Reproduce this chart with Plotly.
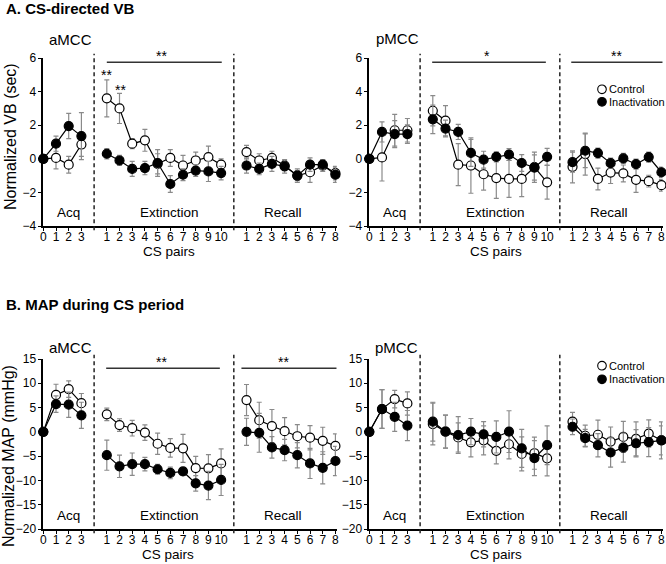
import plotly.graph_objects as go

# ---------------- data ----------------
acq_pairs = [0, 1, 2, 3]
ext_pairs = [1, 2, 3, 4, 5, 6, 7, 8, 9, 10]
rec_pairs = [1, 2, 3, 4, 5, 6, 7, 8]
phase_names = ["Acq", "Extinction", "Recall"]
series_names = ["Control", "Inactivation"]

# A. CS-directed VB, aMCC
vb_a_ctrl_acq = [0, 0.05, -0.35, 0.85]
vb_a_ctrl_acq_err = [0, 0.65, 0.5, 0.7]
vb_a_inact_acq = [0, 0.9, 1.95, 1.35]
vb_a_inact_acq_err = [0, 0.45, 0.75, 1.4]
vb_a_ctrl_ext = [3.6, 3.0, 0.9, 1.1, -0.3, 0.05, -0.4, -0.1, 0.1, -0.35]
vb_a_ctrl_ext_err = [1.1, 0.9, 0.3, 0.65, 0.6, 0.5, 0.6, 0.5, 0.65, 0.35]
vb_a_inact_ext = [0.3, -0.1, -0.6, -0.55, -0.25, -1.5, -0.95, -0.7, -0.75, -0.85]
vb_a_inact_ext_err = [0.3, 0.3, 0.45, 0.4, 0.8, 0.5, 0.35, 0.35, 0.6, 0.4]
vb_a_ctrl_rec = [0.4, -0.1, 0.05, -0.4, -1.0, -0.8, -0.4, -0.85]
vb_a_ctrl_rec_err = [0.4, 0.4, 0.4, 0.3, 0.3, 0.6, 0.35, 0.4]
vb_a_inact_rec = [-0.4, -0.6, -0.3, -0.45, -1.0, -0.35, -0.35, -0.95]
vb_a_inact_rec_err = [0.45, 0.35, 0.45, 0.4, 0.4, 0.4, 0.3, 0.45]

# A. CS-directed VB, pMCC
vb_p_ctrl_acq = [0, 0.08, 1.7, 1.7]
vb_p_ctrl_acq_err = [0, 1.4, 0.95, 0.7]
vb_p_inact_acq = [0, 1.6, 1.47, 1.47]
vb_p_inact_acq_err = [0, 0.6, 0.8, 0.55]
vb_p_ctrl_ext = [2.86, 2.27, -0.35, -0.4, -0.92, -1.15, -1.2, -1.2, -0.5, -1.4]
vb_p_ctrl_ext_err = [0.9, 0.9, 1.25, 1.65, 0.95, 1.2, 1.1, 1.05, 0.9, 1.0]
vb_p_inact_ext = [2.35, 1.8, 1.6, 0.35, -0.05, 0.12, 0.25, -0.25, -0.52, 0.12]
vb_p_inact_ext_err = [0.85, 0.5, 0.45, 0.8, 0.5, 0.3, 0.35, 0.5, 0.75, 0.5]
vb_p_ctrl_rec = [-0.48, 0.28, -1.2, -0.82, -0.87, -1.25, -1.33, -1.57]
vb_p_ctrl_rec_err = [0.95, 1.25, 0.65, 0.65, 0.5, 0.75, 0.35, 0.35]
vb_p_inact_rec = [-0.2, 0.48, 0.34, -0.26, 0.02, -0.32, 0.1, -0.8]
vb_p_inact_rec_err = [0.6, 1.0, 0.3, 0.3, 0.3, 0.3, 0.3, 0.3]

# B. MAP during CS period, aMCC
map_a_ctrl_acq = [0, 7.6, 8.8, 5.9]
map_a_ctrl_acq_err = [0, 2.2, 1.7, 2.0]
map_a_inact_acq = [0, 5.7, 5.6, 3.4]
map_a_inact_acq_err = [0, 1.7, 2.6, 2.7]
map_a_ctrl_ext = [3.6, 1.4, 0.75, -0.15, -2.45, -3.3, -3.4, -7.45, -7.5, -6.5]
map_a_ctrl_ext_err = [1.3, 1.3, 1.6, 1.6, 2.2, 1.9, 2.9, 2.4, 2.8, 3.0]
map_a_inact_ext = [-4.8, -7.1, -6.65, -6.65, -7.7, -8.45, -8.15, -10.6, -11.05, -9.9]
map_a_inact_ext_err = [3.1, 2.3, 2.3, 1.4, 1.0, 1.2, 0.8, 1.6, 2.9, 3.2]
map_a_ctrl_rec = [6.55, 2.4, 1.2, 0.15, -0.9, -1.2, -1.85, -2.9]
map_a_ctrl_rec_err = [3.2, 3.7, 3.4, 2.8, 2.4, 2.5, 2.8, 2.5]
map_a_inact_rec = [0.0, -0.2, -3.2, -3.75, -4.8, -6.5, -7.4, -6.0]
map_a_inact_rec_err = [2.8, 4.0, 2.2, 2.2, 2.6, 3.1, 3.3, 3.0]

# B. MAP during CS period, pMCC
map_p_ctrl_acq = [0, 4.7, 6.75, 5.85]
map_p_ctrl_acq_err = [0, 4.0, 1.8, 2.4]
map_p_inact_acq = [0, 4.7, 3.1, 1.3]
map_p_inact_acq_err = [0, 4.0, 3.0, 3.1]
map_p_ctrl_ext = [1.6, 0.05, -1.15, -2.15, -1.75, -3.9, -2.55, -4.55, -4.4, -5.45]
map_p_ctrl_ext_err = [4.3, 3.4, 3.0, 3.0, 3.0, 2.7, 3.0, 3.5, 3.3, 3.6]
map_p_inact_ext = [2.1, 0.05, -0.65, 0.05, -0.5, -1.05, 0.05, -3.4, -5.4, -2.75]
map_p_inact_ext_err = [4.0, 3.4, 3.8, 2.7, 2.6, 3.3, 4.3, 3.9, 3.6, 4.0]
map_p_ctrl_rec = [2.1, -0.8, -0.6, -2.0, -1.05, -1.45, -0.35, -1.75]
map_p_ctrl_rec_err = [1.9, 2.2, 3.0, 3.0, 3.2, 3.5, 2.8, 3.8]
map_p_inact_rec = [1.05, -1.3, -2.75, -4.25, -3.25, -2.35, -2.1, -1.75]
map_p_inact_rec_err = [1.6, 1.8, 2.4, 3.0, 3.0, 2.8, 3.0, 3.0]

# ---------------- layout helpers ----------------
W, H = 666, 564
FONT = "Liberation Sans, Arial, sans-serif"
phase_offset = {"Acq": 0, "Extinction": 4, "Recall": 15}
phase_pairs = {"Acq": acq_pairs, "Extinction": ext_pairs, "Recall": rec_pairs}
divider_x = [4, 15]

def px(x):
    return x / W

def py(y):
    return 1 - y / H

tickvals, ticktext = [], []
for ph in phase_names:
    for p in phase_pairs[ph]:
        tickvals.append(phase_offset[ph] + p)
        ticktext.append(str(p))

panels = [
    dict(ax="", data={
        "Control": [(vb_a_ctrl_acq, vb_a_ctrl_acq_err), (vb_a_ctrl_ext, vb_a_ctrl_ext_err), (vb_a_ctrl_rec, vb_a_ctrl_rec_err)],
        "Inactivation": [(vb_a_inact_acq, vb_a_inact_acq_err), (vb_a_inact_ext, vb_a_inact_ext_err), (vb_a_inact_rec, vb_a_inact_rec_err)],
    }),
    dict(ax="2", data={
        "Control": [(vb_p_ctrl_acq, vb_p_ctrl_acq_err), (vb_p_ctrl_ext, vb_p_ctrl_ext_err), (vb_p_ctrl_rec, vb_p_ctrl_rec_err)],
        "Inactivation": [(vb_p_inact_acq, vb_p_inact_acq_err), (vb_p_inact_ext, vb_p_inact_ext_err), (vb_p_inact_rec, vb_p_inact_rec_err)],
    }),
    dict(ax="3", data={
        "Control": [(map_a_ctrl_acq, map_a_ctrl_acq_err), (map_a_ctrl_ext, map_a_ctrl_ext_err), (map_a_ctrl_rec, map_a_ctrl_rec_err)],
        "Inactivation": [(map_a_inact_acq, map_a_inact_acq_err), (map_a_inact_ext, map_a_inact_ext_err), (map_a_inact_rec, map_a_inact_rec_err)],
    }),
    dict(ax="4", data={
        "Control": [(map_p_ctrl_acq, map_p_ctrl_acq_err), (map_p_ctrl_ext, map_p_ctrl_ext_err), (map_p_ctrl_rec, map_p_ctrl_rec_err)],
        "Inactivation": [(map_p_inact_acq, map_p_inact_acq_err), (map_p_inact_ext, map_p_inact_ext_err), (map_p_inact_rec, map_p_inact_rec_err)],
    }),
]

fill = {"Control": "white", "Inactivation": "black"}

fig = go.Figure()
for pan in panels:
    for s in series_names:
        for ph, (vals, errs) in zip(phase_names, pan["data"][s]):
            fig.add_trace(go.Scatter(
                x=[phase_offset[ph] + p for p in phase_pairs[ph]],
                y=vals,
                error_y=dict(type="data", array=errs, color="#8a8a8a", thickness=1.2, width=2.5),
                mode="lines+markers",
                line=dict(color="black", width=1.2),
                marker=dict(symbol="circle", size=9, color=fill[s], line=dict(color="black", width=1.2)),
                name=s, showlegend=False, cliponaxis=False,
                xaxis="x" + pan["ax"], yaxis="y" + pan["ax"],
            ))

xdom_left = [px(43.3), px(336.7)]
xdom_right = [px(369.3), px(662.7)]
ydom_top = [py(226), py(58)]
ydom_bot = [py(529), py(359)]

axis_common = dict(showline=True, linecolor="black", linewidth=1.6, ticks="outside",
                   tickcolor="black", tickwidth=1.2, showgrid=False, zeroline=False,
                   tickfont=dict(family=FONT, size=12, color="black"), automargin=False)

xcfg = dict(axis_common, range=[0, 23.1], tickmode="array", tickvals=tickvals, ticktext=ticktext,
            ticklen=3, ticklabelstandoff=-4)
ycfg = dict(axis_common, ticklen=4, ticklabelstandoff=-1)
fig.update_layout(
    xaxis=dict(xcfg, domain=xdom_left, anchor="y"),
    xaxis2=dict(xcfg, domain=xdom_right, anchor="y2"),
    xaxis3=dict(xcfg, domain=xdom_left, anchor="y3"),
    xaxis4=dict(xcfg, domain=xdom_right, anchor="y4"),
    yaxis=dict(ycfg, domain=ydom_top, anchor="x", range=[-4, 6], dtick=2),
    yaxis2=dict(ycfg, domain=ydom_top, anchor="x2", range=[-4, 6], dtick=2),
    yaxis3=dict(ycfg, domain=ydom_bot, anchor="x3", range=[-20, 15], dtick=5),
    yaxis4=dict(ycfg, domain=ydom_bot, anchor="x4", range=[-20, 15], dtick=5),
)

shapes = []
annotations = []

# dashed phase dividers and phase labels
for ax, ylab in [("", -3.2), ("2", -3.2), ("3", -17.2), ("4", -17.2)]:
    for dx in divider_x:
        shapes.append(dict(type="line", xref="x" + ax, yref=("y" + ax) + " domain", x0=dx, x1=dx,
                           y0=-0.025, y1=1.025, line=dict(color="#222", width=1.5, dash="4px,3px")))
    for ph, lx in zip(phase_names, [1.95, 9.9, 18.9]):
        annotations.append(dict(text=ph, x=lx, y=ylab, xref="x" + ax, yref="y" + ax, showarrow=False,
                                font=dict(family=FONT, size=13.5, color="black")))

# significance bars
sig_bars = [("", 5.0, 14.05, 5.75, "**", 9.3), ("2", 4.95, 13.9, 5.75, "*", 9.3),
            ("2", 15.9, 23.1, 5.75, "**", 19.45), ("3", 4.95, 13.9, 13.1, "**", 9.3),
            ("3", 15.6, 23.1, 13.1, "**", 18.95)]
for ax, x0, x1, yb, txt, tx in sig_bars:
    shapes.append(dict(type="line", xref="x" + ax, yref="y" + ax, x0=x0, x1=x1, y0=yb, y1=yb,
                       line=dict(color="#333", width=1.5)))
    annotations.append(dict(text=txt, x=tx, y=yb, xref="x" + ax, yref="y" + ax, showarrow=False,
                            yanchor="bottom", yshift=-4, font=dict(family=FONT, size=14, color="black")))

# point-wise asterisks (aMCC VB, extinction pairs 1-2)
for tx, ty in [(5.0, 4.96), (6.05, 4.1)]:
    annotations.append(dict(text="**", x=tx, y=ty, xref="x", yref="y", showarrow=False,
                            font=dict(family=FONT, size=14, color="black")))

# titles & labels
def ptext(t, x, y, size, xanchor="center", bold=False, angle=0):
    annotations.append(dict(text=("<b>%s</b>" % t) if bold else t, x=px(x), y=py(y), xref="paper", yref="paper",
                            showarrow=False, xanchor=xanchor, yanchor="middle", textangle=angle,
                            font=dict(family=FONT, size=size, color="black")))

ptext("A. CS-directed VB", 4, 9, 15, "left", bold=True)
ptext("B. MAP during CS period", 4, 304.5, 15, "left", bold=True)
ptext("aMCC", 47, 39, 15, "left")
ptext("pMCC", 374, 38, 15, "left")
ptext("aMCC", 47, 347, 15, "left")
ptext("pMCC", 373, 347, 15, "left")
ptext("Normalized VB (sec)", 10, 137, 16, angle=-90)
ptext("Normalized MAP (mmHg)", 9, 456, 16, angle=-90)
ptext("CS pairs", 169, 251, 13.5)
ptext("CS pairs", 496, 251, 13.5)
ptext("CS pairs", 168, 554, 13.5)
ptext("CS pairs", 496, 554, 13.5)

# legends (drawn manually)
for (cy0, cy1) in [(89.3, 101.8), (365.7, 379.3)]:
    for s, cy in zip(series_names, [cy0, cy1]):
        shapes.append(dict(type="circle", xref="paper", yref="paper", xsizemode="pixel", ysizemode="pixel",
                           xanchor=px(602), yanchor=py(cy), x0=-4.3, x1=4.3, y0=-4.3, y1=4.3,
                           fillcolor=fill[s], line=dict(color="black", width=1.1)))
        ptext(s, 606.5, cy, 11, "left")

fig.update_layout(
    width=W, height=H, margin=dict(l=0, r=0, t=0, b=0),
    paper_bgcolor="white", plot_bgcolor="white",
    shapes=shapes, annotations=annotations, showlegend=False,
    font=dict(family=FONT, color="black"),
)

fig.write_html("out.html", config={"displayModeBar": False},
               post_script="document.body.style.margin='0';document.body.style.overflow='hidden';")
